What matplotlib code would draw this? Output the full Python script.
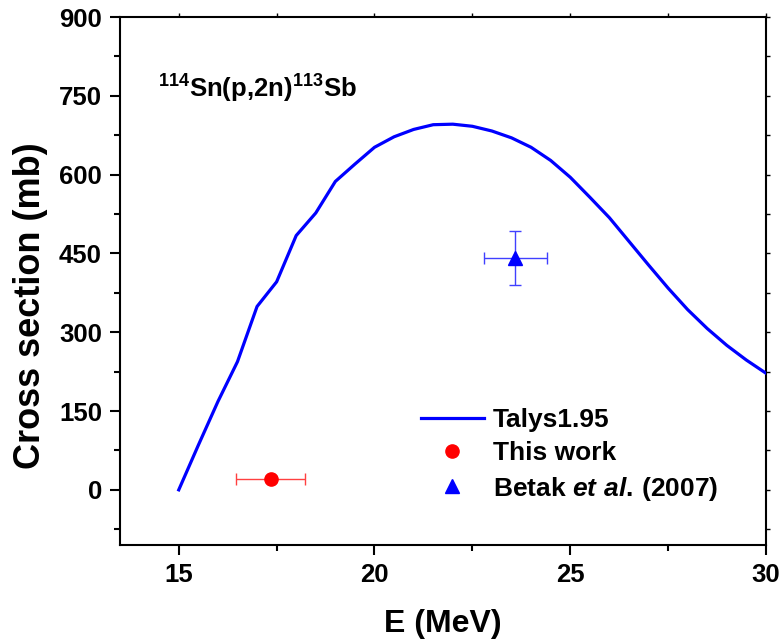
import numpy as np
import matplotlib
matplotlib.use('Agg')
import matplotlib.pyplot as plt
from matplotlib.ticker import MultipleLocator

plt.rcParams['font.family'] = ['Liberation Sans', 'DejaVu Sans']
plt.rcParams['font.weight'] = 'bold'
plt.rcParams['mathtext.fontset'] = 'custom'
plt.rcParams['mathtext.rm'] = 'Liberation Sans:bold'
plt.rcParams['mathtext.bf'] = 'Liberation Sans:bold'
plt.rcParams['mathtext.it'] = 'Liberation Sans:italic:bold'

# Talys1.95 curve
talys_e = [15.0, 15.5, 16.0, 16.5, 17.0, 17.5, 18.0, 18.5, 19.0, 19.5, 20.0, 20.5,
           21.0, 21.5, 22.0, 22.5, 23.0, 23.5, 24.0, 24.5, 25.0, 25.5, 26.0, 26.5,
           27.0, 27.5, 28.0, 28.5, 29.0, 29.5, 30.0]
talys_xs = [0, 85, 168, 244, 349, 396, 484, 527, 587, 620, 652, 672,
            686, 695, 696, 692, 683, 670, 652, 627, 595, 557, 518, 473,
            428, 384, 343, 307, 275, 247, 222]

# This work
this_e = [17.35]
this_e_err = [0.88]
this_xs = [20]

# Betak et al. (2007)
betak_e = [23.6]
betak_e_err = [0.8]
betak_xs = [441]
betak_xs_err = [52]

fig = plt.figure(figsize=(7.82, 6.44), dpi=100)
ax = fig.add_axes([0.1535, 0.1537, 0.826, 0.8199])

ax.plot(talys_e, talys_xs, color='#0000ff', lw=2.3, label='Talys1.95', zorder=3)

ax.errorbar(this_e, this_xs, xerr=this_e_err, fmt='none', ecolor='#ff4040',
            elinewidth=1.0, capsize=4, capthick=1.0, zorder=2)
ax.plot(this_e, this_xs, 'o', color='#ff0000', ms=9.5, label='This work', zorder=4)

ax.errorbar(betak_e, betak_xs, xerr=betak_e_err, yerr=betak_xs_err, fmt='none',
            ecolor='#4040ff', elinewidth=1.0, capsize=4, capthick=1.0, zorder=2)
ax.plot(betak_e, betak_xs, '^', color='#0000ff', ms=10,
        label=r'Betak $\mathit{et\ al.}\,$(2007)', zorder=4)

ax.set_xlim(13.5, 30)
ax.set_ylim(-105, 900)
ax.xaxis.set_major_locator(MultipleLocator(5))
ax.xaxis.set_minor_locator(MultipleLocator(2.5))
ax.yaxis.set_major_locator(MultipleLocator(150))
ax.yaxis.set_minor_locator(MultipleLocator(75))

for s in ax.spines.values():
    s.set_linewidth(1.5)

ax.tick_params(axis='both', which='major', direction='out', length=7, width=1.5,
               labelsize=18.5, pad=6)
ax.tick_params(axis='both', which='minor', direction='out', length=4.5, width=1.5)
ax.tick_params(top=True, right=True, which='both')
for t in ax.xaxis.get_ticklines(minor=False)[1::2] + ax.xaxis.get_ticklines(minor=True)[1::2]:
    t.set_marker(2)  # tick down from top spine
    t.set_markersize(3)
    t.set_markeredgewidth(1)
for t in ax.yaxis.get_ticklines(minor=False)[1::2] + ax.yaxis.get_ticklines(minor=True)[1::2]:
    t.set_marker(1)  # tick left from right spine
    t.set_markersize(3)
    t.set_markeredgewidth(1)

ax.set_xlabel('E (MeV)', fontsize=23, fontweight='bold', labelpad=16)
ax.set_ylabel('Cross section (mb)', fontsize=26, fontweight='bold')
ax.yaxis.set_label_coords(-0.112, 0.453)

ax.text(0.059, 0.864, r'$^{114}$Sn(p,2n)$^{113}$Sb', transform=ax.transAxes,
        fontsize=18.5, fontweight='bold', va='center')

ax.legend(loc='upper left', bbox_to_anchor=(0.449, 0.279), frameon=False,
          fontsize=19, handlelength=2.4, handletextpad=0.34, labelspacing=0.35,
          borderaxespad=0)

fig.savefig('out.png', dpi=100)
